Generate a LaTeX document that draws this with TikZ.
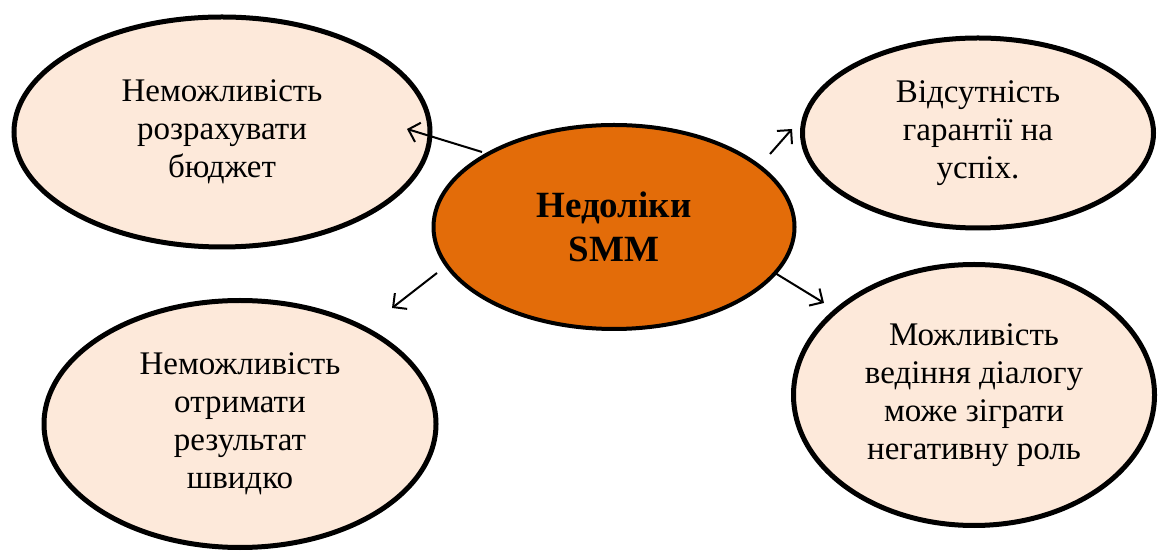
\documentclass[tikz,border=0pt]{standalone}
\usepackage{fontspec}
\setmainfont{Liberation Serif}
\usetikzlibrary{shapes.geometric,arrows.meta}
\definecolor{lightfill}{HTML}{FDE9DA}
\definecolor{darkfill}{HTML}{E36C09}
\tikzset{
  bubble/.style={ellipse, draw=black, line width=5pt, fill=lightfill, inner sep=0pt,
    align=center, text=black, font=\fontsize{33}{38}\selectfont},
  hub/.style={ellipse, draw=black, line width=4pt, fill=darkfill, inner sep=0pt,
    align=center, text=black, font=\fontsize{37}{44}\selectfont\bfseries},
  arr/.style={line width=2pt, -{Straight Barb[length=10pt,width=20pt,line width=2pt]}}
}
\begin{document}
\begin{tikzpicture}[x=1pt,y=1pt]
\useasboundingbox (0,0) rectangle (1158,551);
\node[bubble, minimum width=416pt, minimum height=230pt] (tl) at (222,419)
  {Неможливість\\розрахувати\\бюджет};
\node[bubble, minimum width=351pt, minimum height=190pt] (tr) at (978,418)
  {Відсутність\\гарантії на\\успіх.};
\node[bubble, minimum width=392pt, minimum height=247pt] (bl) at (240,127)
  {Неможливість\\отримати\\результат\\швидко};
\node[bubble, minimum width=361pt, minimum height=261pt] (br) at (974,156)
  {Можливість\\ведіння діалогу\\може зіграти\\негативну роль};
\node[hub, minimum width=361pt, minimum height=204pt] (c) at (614,324)
  {Недоліки\\SMM};
\coordinate (s1) at (482,399); \coordinate (e1) at (407,422);
\coordinate (s2) at (770,397); \coordinate (e2) at (792,422);
\coordinate (s3) at (437,278); \coordinate (e3) at (392,243);
\coordinate (s4) at (775,278); \coordinate (e4) at (824,248);
\draw[arr] (s1) -- (e1);
\draw[arr] (s2) -- (e2);
\draw[arr] (s3) -- (e3);
\draw[arr] (s4) -- (e4);
\end{tikzpicture}
\end{document}
